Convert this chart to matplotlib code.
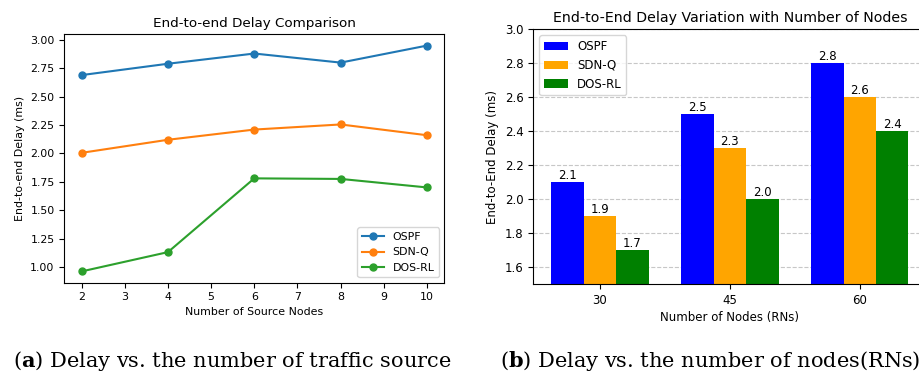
import numpy as np
import matplotlib
matplotlib.use('Agg')
from matplotlib import pyplot as plt

# left chart: delay vs number of source nodes
source_nodes = [2, 4, 6, 8, 10]
ospf_line = [2.69, 2.79, 2.88, 2.80, 2.95]
sdnq_line = [2.005, 2.12, 2.21, 2.255, 2.16]
dosrl_line = [0.96, 1.13, 1.78, 1.775, 1.70]

# right chart: delay vs number of nodes (RNs)
node_counts = ['30', '45', '60']
ospf_bar = [2.1, 2.5, 2.8]
sdnq_bar = [1.9, 2.3, 2.6]
dosrl_bar = [1.7, 2.0, 2.4]

plt.rcParams['font.family'] = 'DejaVu Sans'
plt.rcParams['mathtext.fontset'] = 'custom'
plt.rcParams['mathtext.rm'] = 'DejaVu Serif'
plt.rcParams['mathtext.bf'] = 'DejaVu Serif:bold'

fig = plt.figure(figsize=(9.2, 3.74), dpi=100)

ax1 = fig.add_axes([0.0699, 0.2441, 0.4130, 0.6642])
ax1.plot(source_nodes, ospf_line, marker='o', markersize=5, label='OSPF')
ax1.plot(source_nodes, sdnq_line, marker='o', markersize=5, label='SDN-Q')
ax1.plot(source_nodes, dosrl_line, marker='o', markersize=5, label='DOS-RL')
ax1.set_title('End-to-end Delay Comparison', fontsize=9.7, pad=5)
ax1.set_xlabel('Number of Source Nodes', fontsize=7.9, labelpad=3)
ax1.set_ylabel('End-to-end Delay (ms)', fontsize=7.9)
ax1.tick_params(labelsize=7.9)
ax1.legend(loc='lower right', fontsize=7.9)

ax2 = fig.add_axes([0.5797, 0.2398, 0.4272, 0.6818])
x = np.arange(len(node_counts))
w = 0.25
b1 = ax2.bar(x - w, ospf_bar, w, color='blue', label='OSPF')
b2 = ax2.bar(x, sdnq_bar, w, color='orange', label='SDN-Q')
b3 = ax2.bar(x + w, dosrl_bar, w, color='green', label='DOS-RL')
for bars in (b1, b2, b3):
    for b in bars:
        ax2.text(b.get_x() + b.get_width() / 2, b.get_height(), f'{b.get_height():.1f}',
                 ha='center', va='bottom', fontsize=8.5)
ax2.set_ylim(1.5, 3.0)
ax2.set_xticks(x)
ax2.set_xticklabels(node_counts)
ax2.set_axisbelow(True)
ax2.grid(axis='y', linestyle='--', alpha=0.7)
ax2.set_title('End-to-End Delay Variation with Number of Nodes', fontsize=10.2, pad=5)
ax2.set_xlabel('Number of Nodes (RNs)', fontsize=8.5, labelpad=3)
ax2.set_ylabel('End-to-End Delay (ms)', fontsize=8.5)
ax2.tick_params(labelsize=8.5)
ax2.legend(loc='upper left', fontsize=8.5)

fig.text(0.252, 0.0195, r'($\mathbf{a}$) Delay vs. the number of traffic source',
         family='DejaVu Serif', fontsize=15, ha='center', va='baseline')
fig.text(0.772, 0.0195, r'($\mathbf{b}$) Delay vs. the number of nodes(RNs)',
         family='DejaVu Serif', fontsize=15, ha='center', va='baseline')

fig.savefig('out.png', dpi=100)
